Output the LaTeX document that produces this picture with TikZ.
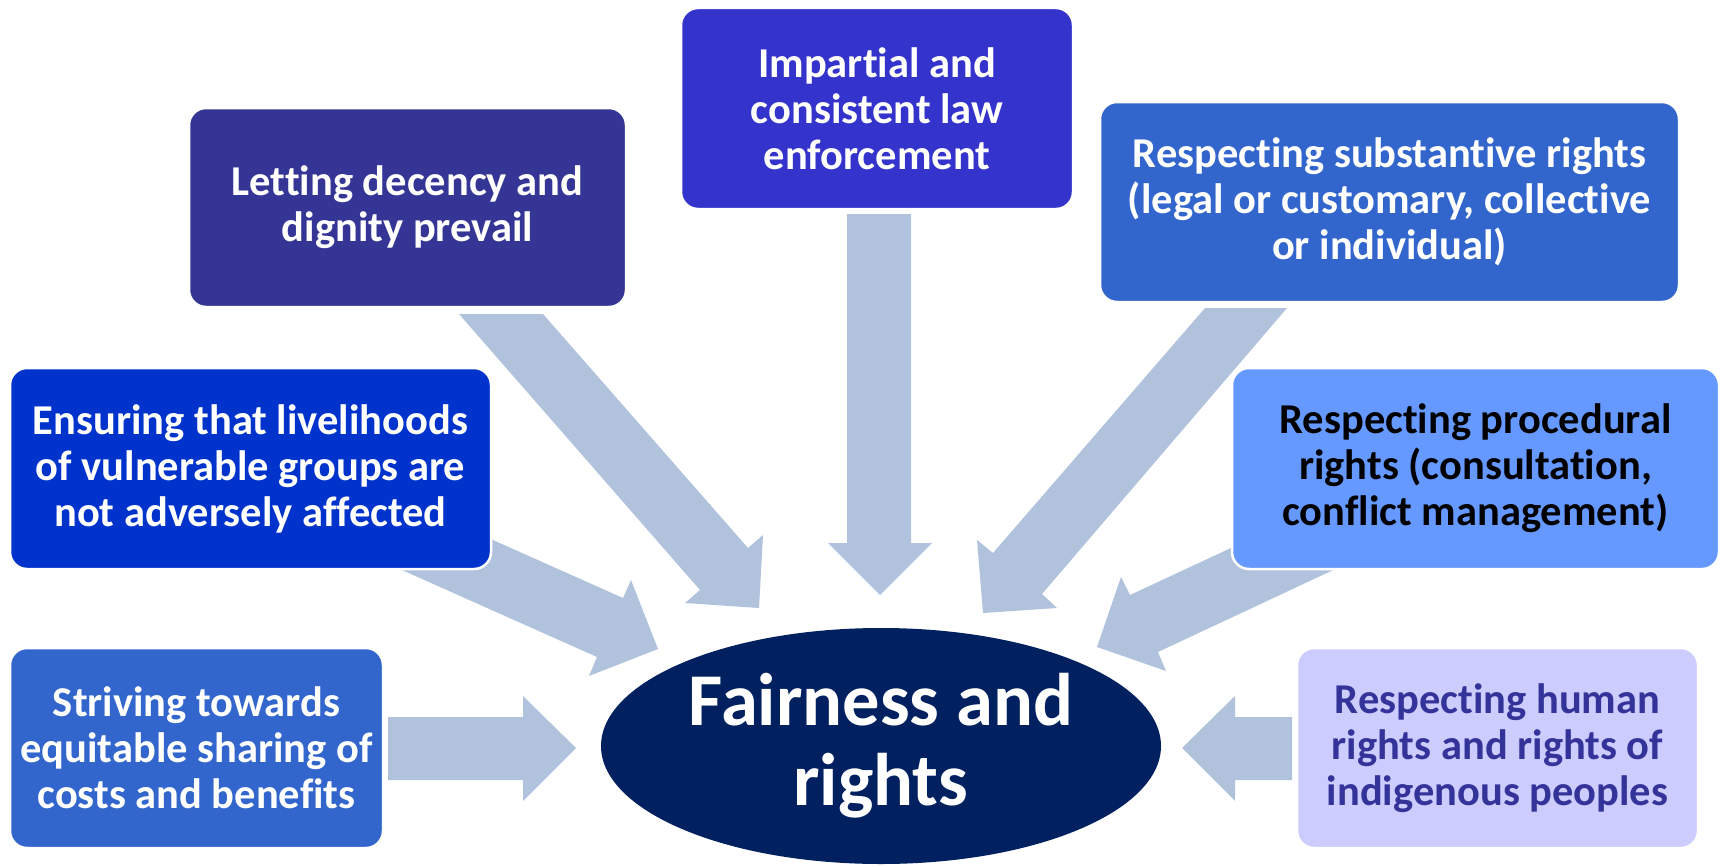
\documentclass[tikz,border=0pt]{standalone}
\usepackage{fontspec}
\setmainfont{Carlito}[Ligatures={NoCommon}]
\usetikzlibrary{shapes.geometric}
\definecolor{arrowc}{HTML}{B1C2DC}
\definecolor{cLet}{HTML}{353596}
\definecolor{cImp}{HTML}{3434CC}
\definecolor{cSub}{HTML}{3366CC}
\definecolor{cEns}{HTML}{0033CC}
\definecolor{cPro}{HTML}{6699FF}
\definecolor{cStr}{HTML}{3366CC}
\definecolor{cHum}{HTML}{CCCCFF}
\definecolor{cHumT}{HTML}{333399}
\definecolor{cEll}{HTML}{002060}
\begin{document}
\begin{tikzpicture}[x=1pt,y=-1pt,
  box/.style={rectangle, rounded corners=17pt, draw=white, line width=2.5pt, inner sep=0pt, align=center,
    font=\fontsize{42.5}{46}\selectfont\bfseries, text=white},
  arr/.style={fill=arrowc}]
\useasboundingbox (0,0) rectangle (1721,867);
% block arrows
\fill[arr] (459,314) -- (700,590) -- (685,603) -- (759,608) -- (763,535) -- (748,548) -- (543,314) -- cycle;
\fill[arr] (847,214) -- (847,543) -- (828,543) -- (880,595) -- (932,543) -- (911,543) -- (911,214) -- cycle;
\fill[arr] (1205,308) -- (993,553) -- (977,540) -- (983,613) -- (1057,608) -- (1042,594) -- (1287,308) -- cycle;
\fill[arr] (401,499) -- (623,598) -- (631,580) -- (658,649) -- (589,676) -- (597,657) -- (375,558) -- cycle;
\fill[arr] (1334,500) -- (1130,595) -- (1121,577) -- (1097,647) -- (1166,671) -- (1158,652) -- (1361,557) -- cycle;
\fill[arr] (388,717) -- (523,717) -- (523,696) -- (576,748) -- (523,801) -- (523,780) -- (388,780) -- cycle;
\fill[arr] (1292,717) -- (1235,717) -- (1235,696) -- (1182,748) -- (1235,801) -- (1235,780) -- (1292,780) -- cycle;
% boxes
\node[box, fill=cLet, minimum width=437pt, minimum height=199pt] (let) at (407.5,207.5) {Letting decency and\\dignity prevail};
\node[box, fill=cImp, minimum width=392pt, minimum height=201pt] (imp) at (877,108.5) {Impartial and\\consistent law\\enforcement};
\node[box, fill=cSub, minimum width=579pt, minimum height=200pt] (sub) at (1389.5,202) {Respecting substantive rights\\(legal or customary, collective\\or individual)};
\node[box, fill=cEns, minimum width=481pt, minimum height=201pt] (ens) at (250.5,468.5) {Ensuring that livelihoods\\of vulnerable groups are\\not adversely affected};
\node[box, fill=cPro, text=black, minimum width=487pt, minimum height=201pt] (pro) at (1475.5,468.5) {Respecting procedural\\rights (consultation,\\conflict management)};
\node[box, fill=cStr, minimum width=373pt, minimum height=200pt] (str) at (196.5,748) {Striving towards\\equitable sharing of\\costs and benefits};
\node[box, fill=cHum, text=cHumT, minimum width=401pt, minimum height=200pt] (hum) at (1497.5,748) {Respecting human\\rights and rights of\\indigenous peoples};
% centre
\node[ellipse, fill=cEll, text=white, inner sep=0pt, minimum width=560pt, minimum height=236pt, align=center,
  font=\fontsize{74.5}{80}\selectfont\bfseries] (fair) at (881,746) {Fairness and\\rights};
\end{tikzpicture}
\end{document}
